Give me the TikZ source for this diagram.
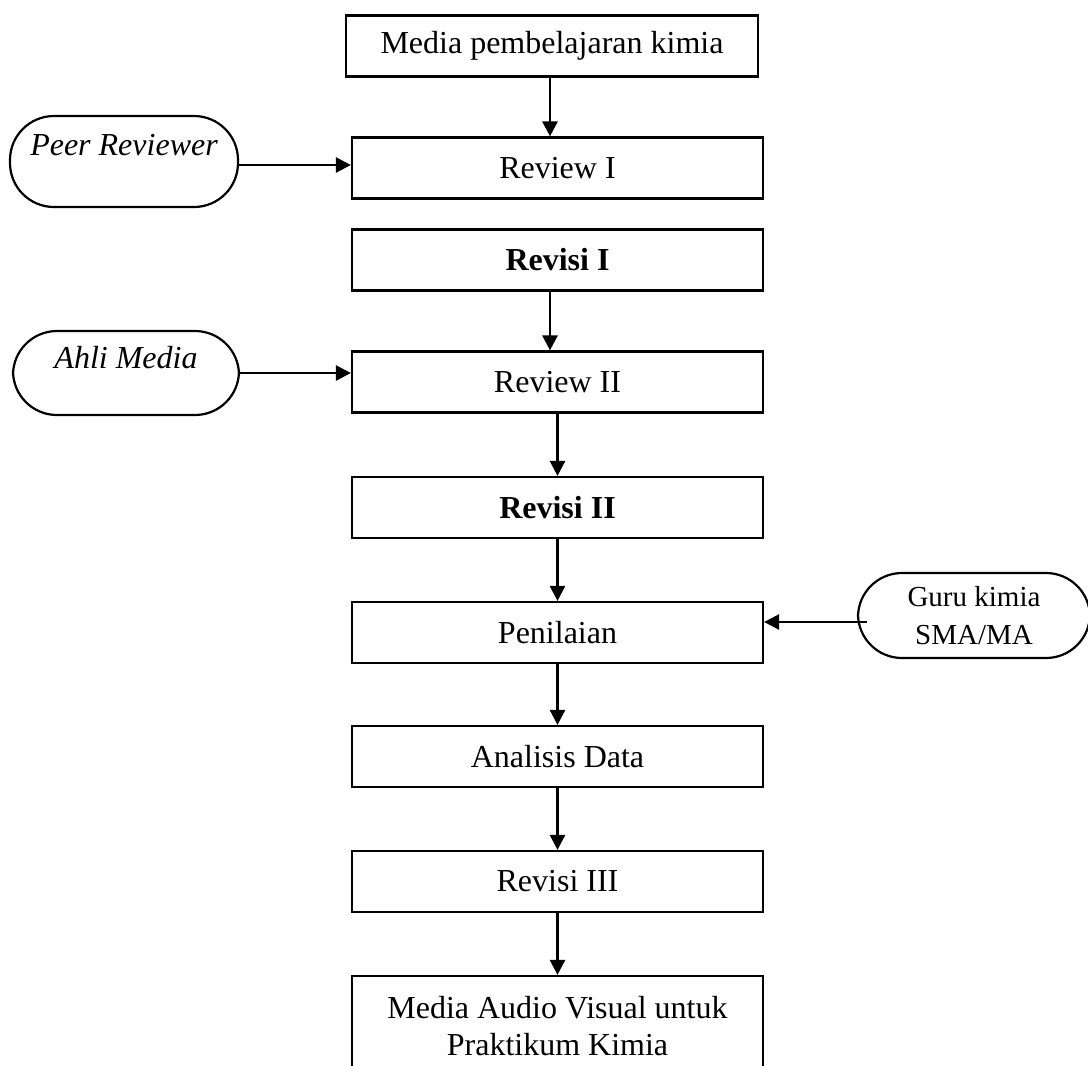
\documentclass[tikz,border=0pt]{standalone}
\usepackage{fontspec}
\setmainfont{Liberation Serif}
\usetikzlibrary{arrows.meta}
\begin{document}
\begin{tikzpicture}[x=1pt,y=-1pt,
 box/.style={draw,line width=2.2pt,minimum width=411pt,minimum height=61pt,inner sep=0pt,align=center,font=\fontsize{32}{37}\selectfont},
 pill/.style={draw,line width=2.2pt,rounded corners=44pt,inner sep=0pt},
 pilltext/.style={inner sep=0pt,anchor=base,font=\fontsize{32}{37}\selectfont\itshape},
 arr/.style={line width=2.6pt,-{Triangle[length=15pt,width=15pt]}}]
\useasboundingbox (0,0) rectangle (1088,1066);
% main column
\node[box,minimum width=412pt] (media) at (552,46) {Media pembelajaran kimia};
\node[box] (rev1) at (557.5,168) {Review I};
\node[box] (revisi1) at (557.5,260) {\bfseries Revisi I};
\node[box] (rev2) at (557.5,382) {Review II};
\node[box] (revisi2) at (557.5,507.5) {\bfseries Revisi II};
\node[box] (nilai) at (557.5,632.5) {Penilaian};
\node[box] (analisis) at (557.5,756.5) {Analisis Data};
\node[box] (revisi3) at (557.5,881.5) {Revisi III};
\node[box,minimum height=100pt] (hasil) at (557.5,1026) {Media Audio Visual untuk\\Praktikum Kimia};
% side inputs
\node[pill,minimum width=228pt,minimum height=91pt] (peer) at (124,161.5) {};
\node[pilltext] (peertext) at (124,155) {Peer Reviewer};
\node[pill,minimum width=226pt,minimum height=84pt] (ahli) at (126,373) {};
\node[pilltext] (ahlitext) at (126,368) {Ahli Media};
\node[pill,minimum width=232pt,minimum height=85pt,align=center,font=\fontsize{29}{38}\selectfont] (guru) at (974,615.5) {Guru kimia\\SMA/MA};
% connectors
\coordinate (ca) at (550,0);
\draw[arr] (media.south -| ca) -- (rev1.north -| ca);
\draw[arr] (revisi1.south -| ca) -- (rev2.north -| ca);
\draw[arr] (rev2.south) -- (revisi2.north);
\draw[arr] (revisi2.south) -- (nilai.north);
\draw[arr] (nilai.south) -- (analisis.north);
\draw[arr] (analisis.south) -- (revisi3.north);
\draw[arr] (revisi3.south) -- (hasil.north);
\draw[arr] ([yshift=-3.5pt]peer.east) -- ([yshift=-3.5pt]peer.east -| rev1.west);
\draw[arr] (ahli.east) -- (ahli.east -| rev2.west);
\draw[arr] ([xshift=10pt,yshift=-6.5pt]guru.west) -- ([yshift=-6.5pt]guru.west -| nilai.east);
\end{tikzpicture}
\end{document}
